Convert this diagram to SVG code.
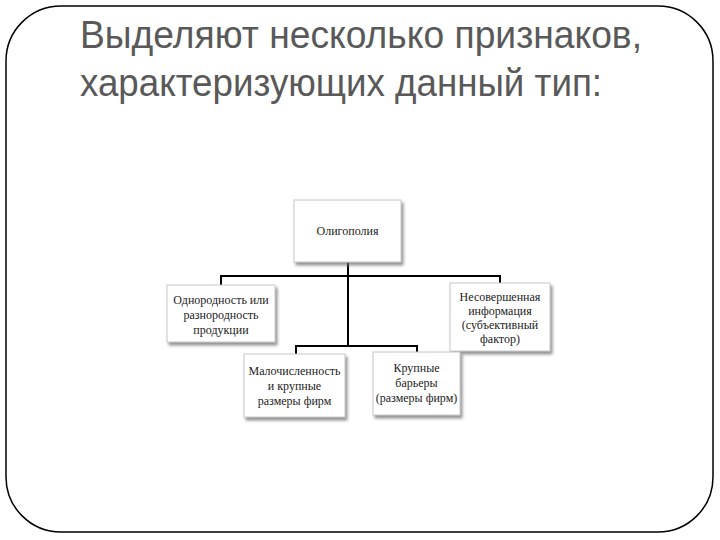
<svg xmlns="http://www.w3.org/2000/svg" width="720" height="540" viewBox="0 0 720 540">
<defs>
<filter id="sh" x="-10%" y="-10%" width="130%" height="140%">
<feDropShadow dx="2" dy="3" stdDeviation="1.5" flood-color="#777" flood-opacity="0.8"/>
</filter>
</defs>
<style>
.frame{fill:#fff;stroke:#000;stroke-width:1.5}
.title{font-family:"Liberation Sans",Arial,sans-serif;font-size:38px;fill:#595959}
.box{fill:#fff;stroke:#c8c8c8;stroke-width:1;filter:url(#sh)}
.lbl{font-family:"Liberation Serif","Times New Roman",serif;font-size:12px;fill:#222;text-anchor:middle}
.con{fill:none;stroke:#000;stroke-width:2}
</style>
<rect class="frame" x="6" y="6" width="707" height="526" rx="55" ry="55"/>
<g id="title">
<text class="title" x="80" y="48" textLength="562" lengthAdjust="spacingAndGlyphs">Выделяют несколько признаков,</text>
<text class="title" x="80" y="96" textLength="522" lengthAdjust="spacingAndGlyphs">характеризующих данный тип:</text>
</g>
<g id="connectors">
<path class="con" d="M348 262 V346"/>
<path class="con" d="M221 285 V276 H500 V283"/>
<path class="con" d="M296 354 V346 H417 V352"/>
</g>
<g id="n-oligopoly">
<rect class="box" x="294" y="200" width="107" height="62"/>
<text class="lbl" x="347.5" y="235">Олигополия</text>
</g>
<g id="n-homogeneity">
<rect class="box" x="167" y="285" width="108" height="57"/>
<text class="lbl" x="221" y="304">Однородность или</text>
<text class="lbl" x="221" y="319">разнородность</text>
<text class="lbl" x="221" y="334">продукции</text>
</g>
<g id="n-information">
<rect class="box" x="450" y="283" width="100" height="68"/>
<text class="lbl" x="500" y="301">Несовершенная</text>
<text class="lbl" x="500" y="315">информация</text>
<text class="lbl" x="500" y="329">(субъективный</text>
<text class="lbl" x="500" y="343">фактор)</text>
</g>
<g id="n-few-firms">
<rect class="box" x="244" y="354" width="101" height="63"/>
<text class="lbl" x="294.5" y="375">Малочисленность</text>
<text class="lbl" x="294.5" y="390">и крупные</text>
<text class="lbl" x="294.5" y="405">размеры фирм</text>
</g>
<g id="n-barriers">
<rect class="box" x="373" y="352" width="87" height="63"/>
<text class="lbl" x="416.5" y="372">Крупные</text>
<text class="lbl" x="416.5" y="387">барьеры</text>
<text class="lbl" x="416.5" y="402">(размеры фирм)</text>
</g>
</svg>
